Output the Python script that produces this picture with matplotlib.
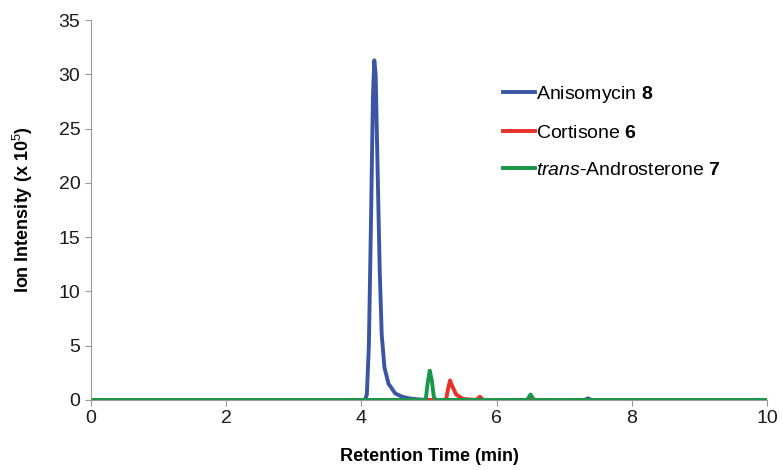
import numpy as np
import matplotlib
matplotlib.use('Agg')
import matplotlib.pyplot as plt

plt.rcParams['font.family'] = ['Liberation Sans', 'DejaVu Sans']
plt.rcParams['mathtext.fontset'] = 'custom'
plt.rcParams['mathtext.rm'] = 'Liberation Sans'
plt.rcParams['mathtext.it'] = 'Liberation Sans:italic'
plt.rcParams['mathtext.bf'] = 'Liberation Sans:bold'

# retention time (min) / intensity (x 10^5)
t_aniso = [0, 4.05, 4.08, 4.11, 4.14, 4.17, 4.19, 4.21, 4.24, 4.27, 4.30, 4.34,
           4.4, 4.5, 4.6, 4.7, 4.85, 5.0, 7.3, 7.35, 7.4, 10]
i_aniso = [0, 0, 0.5, 5, 16, 28, 31.3, 30, 21, 12, 6, 3,
           1.5, 0.6, 0.3, 0.15, 0.05, 0, 0, 0.15, 0, 0]

t_cort = [0, 5.25, 5.28, 5.31, 5.34, 5.4, 5.5, 5.7, 5.75, 5.8, 10]
i_cort = [0, 0, 1.0, 1.8, 1.3, 0.5, 0.1, 0, 0.3, 0, 0]

t_andro = [0, 4.95, 4.98, 5.01, 5.04, 5.07, 5.1, 6.45, 6.5, 6.55, 10]
i_andro = [0, 0, 1.6, 2.7, 1.8, 0.3, 0, 0, 0.5, 0, 0]

labels = [r'Anisomycin $\mathbf{8}$', r'Cortisone $\mathbf{6}$',
          r'$\mathit{trans}$-Androsterone $\mathbf{7}$']

fig = plt.figure(figsize=(7.83, 4.70), dpi=100)
ax = fig.add_axes([0.116, 0.149, 0.864, 0.808])

ax.plot(t_aniso, i_aniso, color='#3a55a4', lw=2.8, label=labels[0])
ax.plot(t_cort, i_cort, color='#e8312a', lw=2.8, label=labels[1])
ax.plot(t_andro, i_andro, color='#1a9648', lw=2.8, label=labels[2])

ax.set_xlim(0, 10)
ax.set_ylim(0, 35)
ax.set_xticks(range(0, 11, 2))
ax.set_yticks(range(0, 36, 5))
for s in ['top', 'right']:
    ax.spines[s].set_visible(False)
for s in ['left', 'bottom']:
    ax.spines[s].set_color('#999999')
ax.tick_params(colors='#999999', labelcolor='#1a1a1a', labelsize=14, length=4)

ax.set_xlabel('Retention Time (min)', fontsize=13, fontweight='bold', labelpad=15)
ax.set_ylabel(r'Ion Intensity (x 10$^5$)', fontsize=13, fontweight='bold', labelpad=17)

ax.legend(loc='upper left', bbox_to_anchor=(0.584, 0.878), frameon=False,
          fontsize=14, handlelength=1.6, handletextpad=0.1, labelspacing=1.0)

fig.savefig('out.png', dpi=100)
